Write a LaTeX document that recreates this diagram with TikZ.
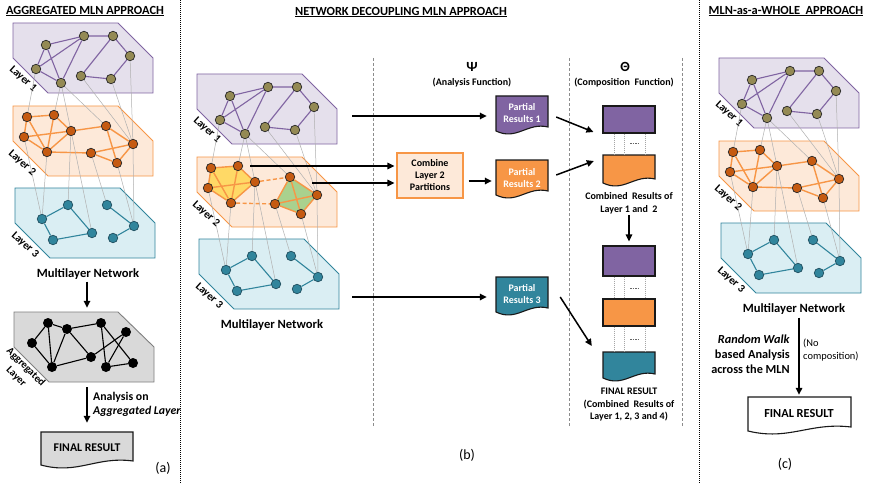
\documentclass[tikz,border=0pt]{standalone}
\usepackage{fontspec}
\setmainfont{Carlito}
\usetikzlibrary{arrows.meta}

\definecolor{lilacfill}{HTML}{E5E0EC}
\definecolor{lilac}{HTML}{8064A2}
\definecolor{olive}{HTML}{948A54}
\definecolor{peach}{HTML}{FDE9D9}
\definecolor{amber}{HTML}{F79646}
\definecolor{rust}{HTML}{C55A11}
\definecolor{icefill}{HTML}{DAEEF3}
\definecolor{sea}{HTML}{31859C}
\definecolor{seadark}{HTML}{1F4E5F}
\definecolor{sun}{HTML}{FFD966}
\definecolor{leaf}{HTML}{A9D18E}
\definecolor{ash}{HTML}{D9D9D9}
\definecolor{ashline}{HTML}{7F7F7F}
\definecolor{linkgray}{HTML}{B0B0B0}

\newcommand\fs[2]{\fontsize{#1}{#2}\selectfont}

\tikzset{
  lay1/.style={fill=lilacfill, draw=lilac, line width=0.9pt},
  lay2/.style={fill=peach, draw=amber, line width=0.9pt},
  lay3/.style={fill=icefill, draw=sea, line width=0.9pt},
  layagg/.style={fill=ash, draw=ashline, line width=0.9pt},
  vtx/.style={circle, minimum size=9.5pt, inner sep=0pt, line width=0.7pt, draw=black!85},
  v1/.style={vtx, fill=olive},
  v2/.style={vtx, fill=rust},
  v3/.style={vtx, fill=sea, draw=seadark},
  va/.style={circle, minimum size=10pt, inner sep=0pt, fill=black},
  e1/.style={draw=lilac, line width=1.1pt},
  e2/.style={draw=amber, line width=1.4pt},
  e2dash/.style={e2, dash pattern=on 4pt off 2.5pt},
  e3/.style={draw=sea, line width=1.1pt},
  ea/.style={draw=black, line width=1.1pt},
  link/.style={draw=linkgray, line width=0.5pt},
  laylab/.style={font=\bfseries\fs{11}{12}, rotate=-42, inner sep=0pt},
  mlnlab/.style={font=\bfseries\fs{12.6}{15}, inner sep=1pt},
  head/.style={font=\bfseries\fs{12.4}{14}, inner sep=0pt},
  arr/.style={line width=1.5pt, -{Triangle[length=7pt, width=6.5pt]}},
  divider/.style={draw=black, line width=1pt, dash pattern=on 1pt off 1pt},
  colsep/.style={draw=black!45, line width=0.8pt, dash pattern=on 3pt off 2pt},
  docline/.style={draw=black!90, line width=1.1pt},
  doctext/.style={font=\bfseries\fs{10}{12}, text=white, align=center, inner sep=0pt,
                  minimum width=52pt, minimum height=30pt},
  slot/.style={inner sep=0pt, minimum width=52pt},
  dotlink/.style={draw=black!35, line width=0.5pt, dash pattern=on 1pt off 1pt},
  caption/.style={font=\fs{14}{16}},
}

% document shape with a wavy lower edge
\newcommand\docpath[5]{%
  \path[#1] (#2,#3) -- (#4,#3) -- (#4,{#5-4})
    .. controls ({#2+0.6*(#4-#2)},{#5-9}) and ({#2+0.4*(#4-#2)},{#5+10}) .. (#2,#5) -- cycle;}

% the three layer planes
\newcommand\netpolys{%
  \path[lay1] (13,23) -- (118,23) -- (153,58) -- (153,93) -- (48,93) -- (13,58) -- cycle;
  \path[lay2] (13,106) -- (118,106) -- (153,141) -- (153,176) -- (48,176) -- (13,141) -- cycle;
  \path[lay3] (15,188) -- (120,188) -- (155,223) -- (155,258) -- (50,258) -- (15,223) -- cycle;}

% vertices and labels of the multilayer network
\newcommand\netnodes[1]{%
  \node[v1] (#1-1a) at (46,45) {};
  \node[v1] (#1-1b) at (84,36) {};
  \node[v1] (#1-1c) at (113,36) {};
  \node[v1] (#1-1d) at (130,56) {};
  \node[v1] (#1-1e) at (36,69) {};
  \node[v1] (#1-1f) at (61,83) {};
  \node[v1] (#1-1g) at (81,76) {};
  \node[v1] (#1-1h) at (111,79) {};
  \node[v2] (#1-2a) at (27,117) {};
  \node[v2] (#1-2b) at (54,115) {};
  \node[v2] (#1-2c) at (24,137) {};
  \node[v2] (#1-2d) at (71,131) {};
  \node[v2] (#1-2e) at (47,152) {};
  \node[v2] (#1-2f) at (106,126) {};
  \node[v2] (#1-2g) at (133,144) {};
  \node[v2] (#1-2h) at (91,153) {};
  \node[v2] (#1-2i) at (117,163) {};
  \node[v3] (#1-3a) at (68,205) {};
  \node[v3] (#1-3b) at (107,205) {};
  \node[v3] (#1-3c) at (42,219) {};
  \node[v3] (#1-3d) at (134,226) {};
  \node[v3] (#1-3e) at (53,240) {};
  \node[v3] (#1-3f) at (92,233) {};
  \node[v3] (#1-3g) at (113,238) {};
  \node[laylab] (#1-lab1) at (23,79) {Layer 1};
  \node[laylab] (#1-lab2) at (22,163) {Layer 2};
  \node[laylab] (#1-lab3) at (25,245) {Layer 3};
  \node[mlnlab] (#1-mln) at (88,274) {Multilayer Network};}

\newcommand\netedgesone[1]{%
  \draw[e1] (#1-1a) -- (#1-1b) -- (#1-1c) -- (#1-1d) -- (#1-1h) -- (#1-1g) -- (#1-1c);
  \draw[e1] (#1-1e) -- (#1-1a) -- (#1-1f) -- (#1-1b) -- (#1-1e) -- (#1-1f);}

\newcommand\netedgestwo[1]{%
  \draw[e2] (#1-2a) -- (#1-2b) -- (#1-2e) -- (#1-2a) -- (#1-2c) -- (#1-2e) -- (#1-2d) -- (#1-2b);
  \draw[e2] (#1-2c) -- (#1-2d) -- (#1-2f) -- (#1-2g) -- (#1-2i) -- (#1-2h) -- (#1-2e);
  \draw[e2] (#1-2f) -- (#1-2i);
  \draw[e2] (#1-2h) -- (#1-2g);}

\newcommand\netedgestwosplit[1]{%
  \draw[e2] (#1-2a) -- (#1-2b) -- (#1-2d) -- (#1-2e) -- (#1-2c) -- (#1-2a) -- (#1-2e) -- (#1-2b);
  \draw[e2] (#1-2c) -- (#1-2d);
  \draw[e2] (#1-2f) -- (#1-2g) -- (#1-2i) -- (#1-2h) -- (#1-2f) -- (#1-2i);
  \draw[e2] (#1-2h) -- (#1-2g);
  \draw[e2dash] (#1-2d) -- (#1-2f);
  \draw[e2dash] (#1-2e) -- (#1-2h);}

\newcommand\netedgesthree[1]{%
  \draw[e3] (#1-3a) -- (#1-3c) -- (#1-3e) -- (#1-3f) -- (#1-3a);
  \draw[e3] (#1-3b) -- (#1-3d) -- (#1-3g);}

\newcommand\netlinks[1]{%
  \draw[link] (#1-1e) -- (#1-2a);
  \draw[link] (#1-1f) -- (#1-2b);
  \draw[link] (#1-1f) -- (#1-2d);
  \draw[link] (#1-1f) -- (#1-2f);
  \draw[link] (#1-1g) -- (#1-2g);
  \draw[link] (#1-1h) -- (#1-2g);
  \draw[link] (#1-1d) -- (#1-2g);
  \draw[link] (#1-2c) -- (#1-3c);
  \draw[link] (#1-2e) -- (#1-3c);
  \draw[link] (#1-2d) -- (#1-3a);
  \draw[link] (#1-2d) -- (#1-3f);
  \draw[link] (#1-2h) -- (#1-3b);
  \draw[link] (#1-2i) -- (#1-3d);
  \draw[link] (#1-2g) -- (#1-3d);}

\begin{document}
\begin{tikzpicture}[x=1pt, y=-1pt]
\useasboundingbox[fill=white] (0,0) rectangle (872,484);

% ---------- section dividers and titles ----------
\draw[divider] (180,0) -- (180,484);
\draw[divider] (699,0) -- (699,484);
\node[head] (titleA) at (85,11) {\underline{AGGREGATED MLN APPROACH}};
\node[head] (titleB) at (401,12) {\underline{NETWORK DECOUPLING MLN APPROACH}};
\node[head] (titleC) at (786,11) {\underline{MLN-as-a-WHOLE\ \ APPROACH}};

% ---------- (a) aggregated approach ----------
\netpolys
\netnodes{a}
\netedgesone{a}
\netedgestwo{a}
\netedgesthree{a}
\netlinks{a}

\path[layagg] (14,312) -- (118,312) -- (154,347) -- (154,382) -- (49,382) -- (14,347) -- cycle;
\node[inner sep=0pt, minimum width=140pt, minimum height=70pt] (agg) at (84,347) {};
\node[va] (g1) at (48,323) {};
\node[va] (g2) at (67,329) {};
\node[va] (g3) at (101,323) {};
\node[va] (g4) at (126,332) {};
\node[va] (g5) at (32,343) {};
\node[va] (g6) at (91,357) {};
\node[va] (g7) at (52,367) {};
\node[va] (g8) at (106,367) {};
\node[va] (g9) at (133,363) {};
\draw[ea] (g1) -- (g5) -- (g7) -- (g1) -- (g2) -- (g7) -- (g6) -- (g2) -- (g3) -- (g8) -- (g9) -- (g3);
\draw[ea] (g4) -- (g8);
\draw[ea] (g4) -- (g6);
\node[laylab, align=center, font=\bfseries\fs{10.5}{13.5}, rotate=-3] (agglab) at (21,372) {Aggregated\\Layer};

\draw[arr, shorten <=1pt, shorten >=4pt] (a-mln.south -| 87,0) -- (agg.north -| 87,0);
\docpath{fill=ash, docline}{41}{432}{133}{465}
\node[inner sep=0pt, minimum width=92pt, minimum height=32pt, font=\bfseries\fs{11.8}{14}] (finA) at (87,448) {FINAL RESULT};
\draw[arr, shorten <=5pt, shorten >=9pt] (agg.south -| finA.north) -- (finA.north);
\node[anchor=west, align=left, font=\bfseries\fs{11.8}{14}, inner sep=0pt] (aggtxt) at (93,404)
  {Analysis on\\\textit{Aggregated Layer}};
\node[caption] (capA) at (163,468) {(a)};

% ---------- (b) network decoupling approach ----------
\draw[colsep] (373,58) -- (373,427);
\draw[colsep] (569,58) -- (569,427);
\draw[colsep] (682,58) -- (682,427);
\node[font=\bfseries\fs{14}{16}] (psi) at (472,67) {Ψ};
\node[font=\bfseries\fs{10}{12}] (psitxt) at (472,83) {(Analysis Function)};
\node[font=\bfseries\fs{14}{16}] (theta) at (625,67) {Θ};
\node[font=\bfseries\fs{10}{12}] (thetatxt) at (624,83) {(Composition\ \ Function)};

\begin{scope}[shift={(184,51)}]
  \netpolys
  \fill[sun] (27,117) -- (54,115) -- (71,131) -- (47,152) -- (24,137) -- cycle;
  \fill[leaf] (106,126) -- (133,144) -- (117,163) -- (91,153) -- cycle;
  \netnodes{b}
  \netedgesone{b}
  \netedgestwosplit{b}
  \netedgesthree{b}
  \netlinks{b}
  \coordinate (b-out1) at (168,65);
  \coordinate (b-out2a) at (66,115);
  \coordinate (b-out2b) at (128,132);
  \coordinate (b-out3) at (168,246);
\end{scope}

% analysis results
\docpath{fill=lilac, docline}{496}{96}{548}{131}
\node[doctext] (pr1) at (522,113) {Partial\\Results 1};
\docpath{fill=amber, docline}{496}{160}{548}{195}
\node[doctext] (pr2) at (522,178) {Partial\\Results 2};
\docpath{fill=sea, docline}{496}{277}{548}{312}
\node[doctext] (pr3) at (522,294) {Partial\\Results 3};
\node[draw=amber, fill=peach, line width=1.2pt, minimum width=66pt, minimum height=45pt, inner sep=0pt,
      align=center, font=\bfseries\fs{10}{12}] (comb) at (430,175.5) {Combine\\Layer 2\\Partitions};

\draw[arr, shorten >=9pt] (b-out1) -- (pr1.west |- b-out1);
\draw[arr, shorten >=2pt] (b-out2a) -- (comb.west |- b-out2a);
\draw[arr, shorten >=2pt] (b-out2b) -- (comb.west |- b-out2b);
\draw[arr, shorten <=5pt, shorten >=4pt] ([yshift=-5.5pt]comb.east) -- ([yshift=-3pt]pr2.west);
\draw[arr, shorten >=9pt] (b-out3) -- (pr3.west |- b-out3);

% composition stack
\node[slot, fill=lilac, draw=black!90, line width=1.1pt, minimum height=27pt] (s1) at (629,119.5) {};
\docpath{fill=amber, docline}{603}{155}{655}{183}
\node[slot, minimum height=27pt] (s2) at (629,168.5) {};
\node[font=\bfseries\fs{10}{13}, align=center, inner sep=1pt] (s2cap) at (629,203.5) {Combined\ \ Results of\\Layer 1 and\ \ 2};
\node[slot, fill=lilac, draw=black!90, line width=1.1pt, minimum height=30pt] (s3) at (629,261) {};
\node[slot, fill=amber, draw=black!90, line width=1.1pt, minimum height=27pt] (s4) at (629,312.5) {};
\docpath{fill=sea, docline}{603}{352}{655}{378}
\node[slot, minimum height=26pt] (s5) at (629,365) {};
\node[font=\bfseries\fs{10}{12.5}, align=center, inner sep=0pt] (finB) at (629,405)
  {FINAL RESULT\\(Combined\ \ Results of\\Layer 1, 2, 3 and 4)};

\foreach \dx in {-15,-5,16} {
  \draw[dotlink] ([xshift=\dx pt]s1.south) -- ([xshift=\dx pt]s2.north);
  \draw[dotlink] ([xshift=\dx pt]s3.south) -- ([xshift=\dx pt]s4.north);
  \draw[dotlink] ([xshift=\dx pt]s4.south) -- ([xshift=\dx pt]s5.north);
}
\draw[black!60, line width=0.4pt, dash pattern=on 1.5pt off 1pt] ([xshift=1pt, yshift=-10pt]s1.south) -- ([xshift=10pt, yshift=-10pt]s1.south);
\draw[black!60, line width=0.4pt, dash pattern=on 1.5pt off 1pt] ([xshift=1pt, yshift=-12pt]s3.south) -- ([xshift=10pt, yshift=-12pt]s3.south);
\draw[black!60, line width=0.4pt, dash pattern=on 1.5pt off 1pt] ([xshift=1pt, yshift=-13pt]s4.south) -- ([xshift=10pt, yshift=-13pt]s4.south);

\draw[arr] ([xshift=8pt, yshift=-4pt]pr1.east) -- ([xshift=-9pt, yshift=-12.5pt]s1.west);
\draw[arr] ([xshift=8pt, yshift=3pt]pr2.east) -- ([xshift=-9pt, yshift=7.5pt]s2.west);
\draw[arr, shorten >=4pt] (s2cap.south) -- (s3.north);
\draw[arr] ([xshift=12pt, yshift=-3pt]pr3.east) -- ([xshift=-11pt, yshift=19pt]s5.west);
\node[caption] (capB) at (467,455) {(b)};

% ---------- (c) MLN as a whole ----------
\begin{scope}[shift={(706,35)}]
  \netpolys
  \netnodes{c}
  \netedgesone{c}
  \netedgestwo{c}
  \netedgesthree{c}
  \netlinks{c}
\end{scope}
\docpath{fill=white, docline}{748}{397}{851}{431}
\node[inner sep=0pt, minimum width=103pt, minimum height=34pt, font=\bfseries\fs{12.3}{14}] (finC) at (799,414) {FINAL RESULT};
\draw[arr, shorten <=2pt, shorten >=2pt] (c-mln.south -| finC.north) -- (finC.north);
\node[anchor=east, align=right, font=\bfseries\fs{12.3}{15}, inner sep=0pt] (walk) at (790,354)
  {\textit{Random Walk}\\based Analysis\\across the MLN};
\node[anchor=west, align=left, font=\fs{10.4}{13}, inner sep=0pt] (nocomp) at (803,350.5)
  {(No\\composition)};
\node[caption] (capC) at (785,464) {(c)};

\end{tikzpicture}
\end{document}
